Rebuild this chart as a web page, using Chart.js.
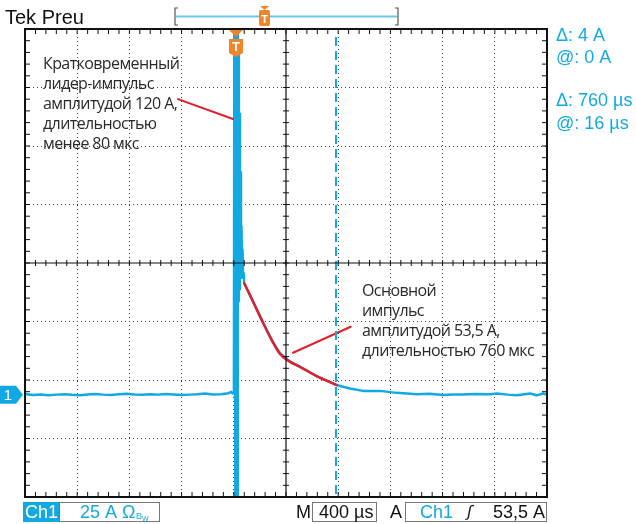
<!DOCTYPE html>
<html>
<head>
<meta charset="utf-8">
<script src="https://cdn.jsdelivr.net/npm/chart.js@4.4.1/dist/chart.umd.min.js"></script>
<style>
  html, body { margin: 0; padding: 0; background: #fff; }
  #wrap { width: 636px; height: 524px; }
</style>
</head>
<body>
<div id="wrap"><canvas id="scope"></canvas></div>
<script>
// scope settings: time in µs from screen centre, current in A above Ch1 ground
const timePerDiv = 400;
const ampsPerDiv = 25;
const groundDiv = -2.25;
const triggerTime = -383;
const cursorTime = 383;

// Ch1 trace
const traceTime = [
  -2000, -1940, -1880, -1820, -1760, -1700, -1640, -1580, -1520, -1460, -1400, -1340,
  -1280, -1220, -1160, -1100, -1040, -980, -920, -860, -800, -740, -680, -620, -560,
  -500, -440, -420, -410, -404, -399, -396, -391, -388, -385, -381, -378, -374, -371,
  -368, -365, -361, -357, -353, -349, -345, -341, -337, -333, -329, -325, -320,
  -250, -174, -110, -46, 31, 107, 235, 389, 437, 490, 590, 720, 848, 1002, 1100, 1203,
  1280, 1356, 1450, 1563, 1615, 1700, 1768, 1870, 1921, 1969, 2000
];
const traceAmps = [
  0.3, -0.2, 0.1, -0.3, 0, 0.2, -0.1, -0.3, 0.1, 0.3, 0, -0.2,
  0.2, 0.4, 0.1, -0.1, 0.2, 0, 0.3, 0.1, -0.2, 0, 0.2, 0.5, 0.1,
  0.2, 0.6, 1.2, 0.5, 0.5, 3, 160, 20, -45, 160, -45, 160, -45, 160,
  30, 150, 40, 120, 45, 95, 50, 72, 52, 62, 50, 52, 47.6,
  39.5, 30.5, 23.4, 17.7, 14.1, 11.9, 7.9, 4.1, 3.4, 2.6, 1.6, 1.6, 0.75, 0.2, 0.4, -0.2,
  0.1, 0.1, 0.3, 0.2, 0.5, 0, -0.3, 0.5, -0.3, 0.5, 0
];

// red hand-drawn overlay: decay curve and two leader lines
const curveTime = [-320, -250, -174, -110, -46, 31, 107, 235, 389];
const curveAmps = [47.6, 39.5, 30.5, 23.4, 17.4, 14.0, 11.9, 7.9, 4.1];
const leaderOneTime = [-828, -406];
const leaderOneAmps = [126.3, 117.8];
const leaderTwoTime = [54, 496];
const leaderTwoAmps = [17.9, 29.0];

// annotation texts
const noteOne = ['Кратковременный', 'лидер-импульс', 'амплитудой 120 А,', 'длительностью', 'менее 80 мкс'];
const noteTwo = ['Основной', 'импульс', 'амплитудой 53,5 А,', 'длительностью 760 мкс'];
const readouts = ['Δ: 4 A', '@: 0 A', 'Δ: 760 µs', '@: 16 µs'];

const CYAN = '#12a8e2';
const RED = '#e0202c';
const ORANGE = '#f0862a';

const yMin = (-4 - groundDiv) * ampsPerDiv;
const yMax = (4 - groundDiv) * ampsPerDiv;
const centreAmps = (0 - groundDiv) * ampsPerDiv;

function pts(xs, ys) {
  return xs.map((x, i) => ({ x: x, y: ys[i] }));
}

function evenTicks(min, step, n) {
  const out = [];
  for (let i = 0; i <= n; i++) out.push({ value: min + i * step });
  return out;
}

// frame, centre cross, minor ticks, cursor and markers
const scopePlugin = {
  id: 'scope',
  beforeDraw(chart) {
    const c = chart.ctx;
    c.save();
    c.fillStyle = '#fff';
    c.fillRect(0, 0, chart.width, chart.height);
    c.restore();
  },
  afterDatasetsDraw(chart) {
    const c = chart.ctx;
    const a = chart.chartArea;
    const xs = chart.scales.x;
    const ys = chart.scales.y;
    const cx = xs.getPixelForValue(0);
    const cy = ys.getPixelForValue(centreAmps);
    c.save();

    // dashed cursor
    const curX = xs.getPixelForValue(cursorTime);
    c.strokeStyle = CYAN;
    c.lineWidth = 2;
    c.setLineDash([9, 5]);
    c.beginPath();
    c.moveTo(curX, a.top + 8);
    c.lineTo(curX, a.bottom);
    c.stroke();
    c.setLineDash([]);

    // centre cross
    c.strokeStyle = '#111';
    c.lineWidth = 1.2;
    c.beginPath();
    c.moveTo(cx, a.top); c.lineTo(cx, a.bottom);
    c.moveTo(a.left, cy); c.lineTo(a.right, cy);
    c.stroke();

    // minor ticks, 5 per division
    c.lineWidth = 1;
    c.beginPath();
    for (let i = 1; i < 50; i++) {
      const px = xs.getPixelForValue(-2000 + i * timePerDiv / 5);
      c.moveTo(px, a.top); c.lineTo(px, a.top + 5);
      c.moveTo(px, a.bottom); c.lineTo(px, a.bottom - 5);
      c.moveTo(px, cy - 3); c.lineTo(px, cy + 3);
    }
    for (let i = 1; i < 40; i++) {
      const py = ys.getPixelForValue(yMin + i * ampsPerDiv / 5);
      c.moveTo(a.left, py); c.lineTo(a.left + 5, py);
      c.moveTo(a.right, py); c.lineTo(a.right - 5, py);
      c.moveTo(cx - 3, py); c.lineTo(cx + 3, py);
    }
    c.stroke();

    // frame
    c.strokeStyle = '#111';
    c.lineWidth = 2;
    c.strokeRect(a.left, a.top, a.right - a.left, a.bottom - a.top);

    // trigger marker on top of the graticule
    const tx = xs.getPixelForValue(triggerTime);
    c.fillStyle = ORANGE;
    c.beginPath();
    c.moveTo(tx - 7, a.top + 1); c.lineTo(tx + 7, a.top + 1); c.lineTo(tx, a.top + 8);
    c.closePath(); c.fill();
    c.beginPath();
    c.moveTo(tx - 7, a.top + 10); c.lineTo(tx + 7, a.top + 10);
    c.lineTo(tx + 7, a.top + 24); c.lineTo(tx, a.top + 28); c.lineTo(tx - 7, a.top + 24);
    c.closePath(); c.fill();
    c.fillStyle = '#fff';
    c.font = 'bold 13px "Liberation Sans", Arial, sans-serif';
    c.textAlign = 'center';
    c.textBaseline = 'middle';
    c.fillText('T', tx, a.top + 18);

    // Ch1 ground marker
    const gy = ys.getPixelForValue(0);
    c.fillStyle = CYAN;
    c.beginPath();
    c.moveTo(0, gy - 9); c.lineTo(16, gy - 9); c.lineTo(23, gy); c.lineTo(16, gy + 9); c.lineTo(0, gy + 9);
    c.closePath(); c.fill();
    c.fillStyle = '#fff';
    c.font = '15px "Liberation Sans", Arial, sans-serif';
    c.fillText('1', 8, gy + 1);
    c.restore();
  },
  afterDraw(chart) {
    const c = chart.ctx;
    c.save();
    c.textAlign = 'left';
    c.textBaseline = 'alphabetic';

    // header
    c.fillStyle = '#111';
    c.font = '20px "Liberation Sans", Arial, sans-serif';
    c.fillText('Tek Preu', 5, 24);

    // record bar
    c.strokeStyle = '#555';
    c.lineWidth = 1.2;
    c.beginPath();
    c.moveTo(178, 8); c.lineTo(175, 8); c.lineTo(175, 25); c.lineTo(178, 25);
    c.moveTo(395, 8); c.lineTo(398, 8); c.lineTo(398, 25); c.lineTo(395, 25);
    c.stroke();
    c.strokeStyle = '#6cc8ee';
    c.lineWidth = 2;
    c.beginPath(); c.moveTo(176, 16.5); c.lineTo(397, 16.5); c.stroke();
    c.fillStyle = ORANGE;
    c.beginPath(); c.moveTo(260, 6); c.lineTo(269, 6); c.lineTo(264.5, 10); c.closePath(); c.fill();
    c.beginPath(); c.roundRect(259, 10, 11, 16, 2); c.fill();
    c.fillStyle = '#fff';
    c.font = 'bold 11px "Liberation Sans", Arial, sans-serif';
    c.textAlign = 'center';
    c.fillText('T', 264.5, 23);

    // readouts
    c.textAlign = 'left';
    c.fillStyle = CYAN;
    c.font = '18px "Liberation Sans", Arial, sans-serif';
    const ry = [41, 63, 106, 129];
    readouts.forEach((t, i) => c.fillText(t, 556, ry[i]));

    // annotations
    c.fillStyle = '#2a2a2a';
    c.font = '16px "Open Sans", "Noto Sans", sans-serif';
    c.letterSpacing = '-0.6px';
    noteOne.forEach((t, i) => c.fillText(t, 43, 69 + i * 20));
    noteTwo.forEach((t, i) => c.fillText(t, 362, 296 + i * 20));
    c.letterSpacing = '0px';

    // bottom status line
    c.font = '18px "Liberation Sans", Arial, sans-serif';
    c.fillStyle = CYAN;
    c.fillRect(23, 502, 36, 20);
    c.fillStyle = '#fff';
    c.fillText('Ch1', 25, 518);
    c.strokeStyle = '#777';
    c.lineWidth = 1;
    c.strokeRect(59.5, 502.5, 100, 19);
    c.strokeRect(312.5, 502.5, 64, 19);
    c.strokeRect(405.5, 502.5, 141, 19);
    c.fillStyle = CYAN;
    c.fillText('25 A Ω', 80, 518);
    c.font = '9px "Liberation Sans", Arial, sans-serif';
    c.fillText('B', 136, 519);
    c.font = '7px "Liberation Sans", Arial, sans-serif';
    c.fillText('W', 142, 521);
    c.font = '18px "Liberation Sans", Arial, sans-serif';
    c.fillStyle = '#111';
    c.fillText('M', 296, 518);
    c.fillText('400 µs', 319, 518);
    c.fillText('A', 390, 518);
    c.fillStyle = CYAN;
    c.fillText('Ch1', 420, 518);
    c.fillStyle = '#111';
    c.font = 'italic 16px "DejaVu Sans", sans-serif';
    c.fillText('ʃ', 467, 517);
    c.font = '18px "Liberation Sans", Arial, sans-serif';
    c.textAlign = 'right';
    c.fillText('53,5 A', 545, 518);
    c.restore();
  }
};

new Chart(document.getElementById('scope'), {
  type: 'line',
  data: {
    datasets: [
      { data: pts(curveTime, curveAmps), borderColor: RED, borderWidth: 2.5, cubicInterpolationMode: 'monotone' },
      { data: pts(leaderOneTime, leaderOneAmps), borderColor: RED, borderWidth: 2 },
      { data: pts(leaderTwoTime, leaderTwoAmps), borderColor: RED, borderWidth: 2 },
      { data: pts(traceTime, traceAmps), borderColor: CYAN, borderWidth: 2.5 }
    ]
  },
  options: {
    responsive: true,
    maintainAspectRatio: false,
    animation: false,
    events: [],
    parsing: false,
    elements: { point: { radius: 0 }, line: { tension: 0, borderJoinStyle: 'round', borderCapStyle: 'round' } },
    layout: { padding: { left: 25, right: 89, top: 29, bottom: 27 } },
    plugins: { legend: { display: false }, tooltip: { enabled: false } },
    scales: {
      x: {
        type: 'linear',
        min: -2000,
        max: 2000,
        afterBuildTicks: s => { s.ticks = evenTicks(-2000, timePerDiv, 10); },
        ticks: { display: false },
        grid: {
          drawTicks: false,
          lineWidth: 1,
          color: ctx => (ctx.tick && Math.abs(ctx.tick.value) < 1e-6 ? 'rgba(0,0,0,0)' : '#444')
        },
        border: { display: false, dash: [1, 3] }
      },
      y: {
        type: 'linear',
        min: yMin,
        max: yMax,
        afterBuildTicks: s => { s.ticks = evenTicks(yMin, ampsPerDiv, 8); },
        ticks: { display: false },
        grid: {
          drawTicks: false,
          lineWidth: 1,
          color: ctx => (ctx.tick && Math.abs(ctx.tick.value - centreAmps) < 1e-6 ? 'rgba(0,0,0,0)' : '#444')
        },
        border: { display: false, dash: [1, 3] }
      }
    }
  },
  plugins: [scopePlugin]
});
</script>
</body>
</html>
